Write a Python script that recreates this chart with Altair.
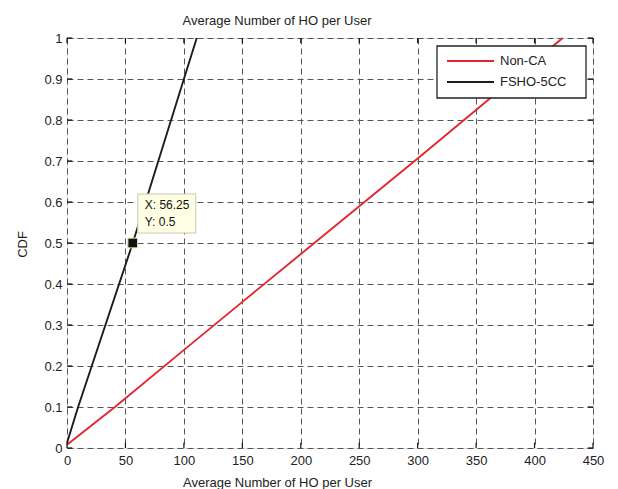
import altair as alt
import pandas as pd

# ---- data ----
x_ticks = [0, 50, 100, 150, 200, 250, 300, 350, 400, 450]
y_ticks = [0, 0.1, 0.2, 0.3, 0.4, 0.5, 0.6, 0.7, 0.8, 0.9, 1]

series_names = ["Non-CA", "FSHO-5CC"]
series_colors = ["#e3262d", "#1c1c1c"]

nonca_x = [0, 41, 97, 149, 227, 300, 424]
nonca_y = [0.008, 0.1, 0.232, 0.354, 0.536, 0.706, 1.0]

fsho_x = [0, 9.5, 56.25, 100, 111]
fsho_y = [0.012, 0.1, 0.5, 0.9, 1.0]

tip_x = [56.25]
tip_y = [0.5]

title_text = "Average Number of HO per User"
x_title = "Average Number of HO per User"
y_title = "CDF"

FONT = "Liberation Sans"

# ---- tables ----
rows = []
for i, (xv, yv) in enumerate(zip(nonca_x, nonca_y)):
    rows.append({"series": series_names[0], "x": xv, "y": yv, "o": i})
for i, (xv, yv) in enumerate(zip(fsho_x, fsho_y)):
    rows.append({"series": series_names[1], "x": xv, "y": yv, "o": i})
lines_df = pd.DataFrame(rows)

tip_df = pd.DataFrame({"x": tip_x, "y": tip_y})
xt_df = pd.DataFrame({"t": x_ticks})
yt_df = pd.DataFrame({"t": y_ticks})

xscale = alt.Scale(domain=[0, 450], nice=False, zero=False)
yscale = alt.Scale(domain=[0, 1], nice=False, zero=False)

xaxis = alt.Axis(
    values=x_ticks, grid=True, gridDash=[6, 4], gridColor="#555", gridWidth=1,
    tickSize=0, domain=False, labelFontSize=13, labelPadding=6, labelColor="#222",
    labelFont=FONT, labelFlush=False, labelOverlap=False,
    title=x_title, titleFont=FONT, titleFontSize=13,
    titleFontWeight="normal", titleColor="#222", titleX=210, titleY=34,
    titleBaseline="middle",
)
yaxis = alt.Axis(
    values=y_ticks, format="~g", grid=True, gridDash=[6, 4], gridColor="#555",
    gridWidth=1, tickSize=0, domain=False, labelFontSize=13, labelPadding=5,
    labelColor="#222", labelFont=FONT, labelFlush=False, labelOverlap=False,
    title=y_title, titleFont=FONT,
    titleFontSize=13, titleFontWeight="normal", titleColor="#222",
    titleX=-45, titleY=206, titleBaseline="middle",
)

color_scale = alt.Scale(domain=series_names, range=series_colors)


def xf(field):
    return alt.X(field, scale=xscale, axis=xaxis, title=x_title)


def yf(field):
    return alt.Y(field, scale=yscale, axis=yaxis, title=y_title)


lines = alt.Chart(lines_df).mark_line(strokeWidth=1.9).encode(
    x=xf("x:Q"),
    y=yf("y:Q"),
    color=alt.Color("series:N", scale=color_scale, legend=None),
    order="o:Q",
    detail="series:N",
)

tick_style = dict(color="#111", strokeWidth=1.2)

ticks_bottom = alt.Chart(xt_df).mark_rule(**tick_style).encode(
    x=xf("t:Q"), y=alt.YDatum(0, scale=yscale, axis=yaxis, title=y_title), y2=alt.Y2Datum(0.013))
ticks_top = alt.Chart(xt_df).mark_rule(**tick_style).encode(
    x=xf("t:Q"), y=alt.YDatum(1, scale=yscale, axis=yaxis, title=y_title), y2=alt.Y2Datum(0.987))
ticks_left = alt.Chart(yt_df).mark_rule(**tick_style).encode(
    y=yf("t:Q"), x=alt.XDatum(0, scale=xscale, axis=xaxis, title=x_title), x2=alt.X2Datum(4.5))
ticks_right = alt.Chart(yt_df).mark_rule(**tick_style).encode(
    y=yf("t:Q"), x=alt.XDatum(450, scale=xscale, axis=xaxis, title=x_title), x2=alt.X2Datum(445.5))

tip_box = alt.Chart(tip_df).mark_rect(
    fill="#ffffe3", stroke="#c8c8b4", strokeWidth=1,
    xOffset=5, x2Offset=63, yOffset=-49, y2Offset=-10,
).encode(x=xf("x:Q"), x2="x:Q", y=yf("y:Q"), y2="y:Q")

tip_text_x = alt.Chart(tip_df).transform_calculate(
    label="'X: ' + format(datum.x, '.2f')"
).mark_text(align="left", baseline="middle", dx=12, dy=-38, fontSize=12, font=FONT, color="#111").encode(
    x=xf("x:Q"), y=yf("y:Q"), text="label:N")

tip_text_y = alt.Chart(tip_df).transform_calculate(
    label="'Y: ' + format(datum.y, '~g')"
).mark_text(align="left", baseline="middle", dx=12, dy=-21, fontSize=12, font=FONT, color="#111").encode(
    x=xf("x:Q"), y=yf("y:Q"), text="label:N")

marker = alt.Chart(tip_df).mark_point(
    shape="square", filled=True, fill="#111", stroke="#eeeab0", strokeWidth=1,
    size=95, opacity=1,
).encode(x=xf("x:Q"), y=yf("y:Q"))

# legend drawn by hand (box, line samples, labels)
leg_layers = []
leg_layers.append(
    alt.Chart(pd.DataFrame({"k": [0]})).mark_rect(
        fill="white", stroke="#222", strokeWidth=1.3
    ).encode(x=alt.value(370), x2=alt.value(519), y=alt.value(8), y2=alt.value(60))
)
row_y = [23, 44]
for name, col, ry in zip(series_names, series_colors, row_y):
    d = pd.DataFrame({"series": [name]})
    leg_layers.append(
        alt.Chart(d).mark_rule(strokeWidth=1.9, color=col).encode(
            x=alt.value(380), x2=alt.value(427), y=alt.value(ry))
    )
    leg_layers.append(
        alt.Chart(d).mark_text(
            align="left", baseline="middle", fontSize=13, font=FONT, color="#222"
        ).encode(x=alt.value(433), y=alt.value(ry), text="series:N")
    )

chart = alt.layer(
    lines, ticks_bottom, ticks_top, ticks_left, ticks_right,
    tip_box, tip_text_x, tip_text_y, marker, *leg_layers,
).properties(
    width=526, height=410,
    autosize=alt.AutoSizeParams(type="none"),
    padding={"left": 59, "top": 30, "right": 17, "bottom": 41},
    title=alt.TitleParams(
        title_text, fontSize=13, fontWeight="normal", font=FONT, color="#222",
        anchor="middle", frame="group", dx=-53, offset=4,
    ),
).configure_view(
    stroke="#000", strokeWidth=1.8
).configure(font=FONT, background="white")

chart.save("out.html", embed_options={"renderer": "svg", "actions": False})
